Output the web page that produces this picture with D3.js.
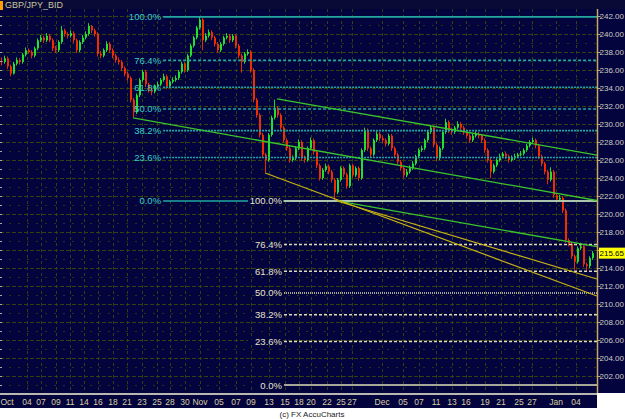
<!DOCTYPE html>
<html><head><meta charset="utf-8">
<script src="https://cdn.jsdelivr.net/npm/d3@7"></script>
<style>
html,body{margin:0;padding:0;background:#fff;}
svg{display:block;}
text{font-family:"Liberation Sans",Arial,sans-serif;}
</style></head><body>
<svg id="c" width="625" height="419"></svg>
<script>
const title = "GBP/JPY_BID";
const copyright = "(c) FX AccuCharts";
const lastPrice = 215.65;

const opens = [237.0,236.9,237.3,236.4,235.6,236.7,237.1,236.9,237.7,238.2,238.0,237.6,238.4,239.3,239.6,239.3,239.8,239.3,238.4,238.2,239.1,240.4,240.0,239.8,240.1,239.3,238.2,239.1,239.6,240.0,240.9,240.4,240.0,237.8,237.6,238.2,238.9,238.2,237.6,237.1,236.9,236.2,235.6,235.1,232.7,231.3,233.2,234.9,235.8,234.4,233.8,233.6,234.2,234.4,234.9,235.3,234.2,234.7,234.9,235.1,235.8,236.7,236.0,237.6,238.7,239.6,240.7,
241.6,239.3,239.8,240.2,239.6,238.9,238.2,238.9,239.6,239.8,239.3,239.8,238.7,237.6,236.9,237.8,238.0,236.0,232.7,231.0,228.8,226.6,226.0,228.8,230.7,231.8,231.0,229.6,228.2,227.3,226.0,226.2,227.3,228.0,226.2,226.0,227.3,228.2,226.9,225.4,224.0,224.9,225.3,224.7,223.8,222.4,223.8,225.1,224.4,223.1,225.4,224.3,225.1,224.0,227.1,229.3,227.3,226.6,228.2,228.9,228.4,228.2,227.8,228.7,227.3,
226.6,225.8,225.1,224.3,224.7,225.1,225.6,226.4,227.1,227.3,228.2,229.1,229.6,227.7,226.2,227.3,229.1,230.2,229.3,229.1,229.6,230.0,229.6,229.1,228.7,228.2,228.7,228.9,228.7,228.2,227.1,226.0,224.7,225.4,226.0,226.4,226.7,226.4,226.0,226.2,226.4,226.6,226.7,227.1,227.6,228.0,228.2,227.6,226.4,225.6,224.7,223.8,224.7,222.1,221.6,221.8,220.4,217.1,216.7,215.3,214.7,216.2,216.4,214.4,214.2,215.1];

const highs = [237.4,237.6,237.5,236.6,236.9,237.4,237.3,237.9,238.5,238.4,238.2,238.6,239.5,239.9,239.8,240.1,240.0,239.5,238.7,239.3,240.9,240.6,240.2,240.4,240.3,239.5,239.3,239.9,240.3,241.2,241.0,240.6,240.2,238.1,238.4,239.2,239.1,238.4,237.8,237.4,237.1,236.4,235.8,235.3,232.9,233.4,235.1,236.0,236.0,234.6,234.1,234.4,234.7,235.1,235.6,235.5,234.9,235.2,235.4,236.0,236.9,236.9,237.8,238.9,239.8,240.9,241.9,
241.8,240.1,240.5,240.4,239.8,239.1,239.1,239.8,240.1,240.0,240.0,240.0,238.9,237.8,238.0,238.3,238.2,236.2,232.9,231.2,229.0,226.8,229.0,230.9,232.7,232.0,231.2,229.8,228.4,227.5,226.5,227.5,228.3,228.2,226.5,227.5,228.5,228.4,227.1,225.6,225.1,225.6,225.5,224.9,224.0,224.0,225.3,225.3,224.6,225.6,225.6,225.3,225.3,227.3,229.6,229.5,227.5,228.4,229.2,229.1,228.7,228.4,228.9,228.9,227.5,
226.8,226.0,225.3,225.0,225.4,225.9,226.6,227.3,227.6,228.4,229.3,229.9,229.8,227.9,227.5,229.3,230.6,230.4,229.6,229.8,230.3,230.2,229.8,229.3,228.9,228.9,229.2,229.1,228.9,228.4,227.3,226.2,225.6,226.2,226.7,226.9,226.9,226.6,226.5,226.7,226.8,227.0,227.3,227.8,228.2,228.5,228.4,227.8,226.6,225.8,224.9,225.2,224.9,222.3,222.1,222.0,220.6,217.3,216.9,215.5,216.4,216.8,216.6,214.6,215.3,215.9];

const lows = [236.5,236.7,236.1,235.3,235.5,236.5,236.6,236.7,237.5,237.8,237.3,237.4,238.2,239.1,239.0,239.1,239.1,238.1,237.9,238.0,238.9,239.7,239.5,239.6,239.0,237.9,238.0,238.9,239.4,239.8,240.1,239.7,237.5,237.3,237.4,238.0,237.9,237.3,236.8,236.6,235.9,235.3,234.8,232.4,230.7,231.1,233.0,234.7,234.1,233.5,233.2,233.4,234.0,234.2,234.7,233.9,234.0,234.5,234.7,234.9,235.6,235.7,235.8,237.4,238.5,239.4,240.5,
238.2,239.1,239.6,239.3,238.6,237.9,238.0,238.7,239.4,239.0,239.1,238.4,237.3,235.7,236.7,237.6,235.7,232.4,230.7,228.5,226.3,224.6,225.8,228.6,230.5,230.7,229.3,227.9,227.0,225.7,225.8,226.0,227.1,225.9,225.7,225.8,227.1,226.6,225.1,223.7,223.8,224.7,224.4,223.5,221.5,222.2,223.6,224.1,222.8,222.9,224.0,224.1,223.7,223.8,226.9,227.0,226.3,226.4,228.0,228.1,227.9,227.5,227.6,227.0,226.3,
225.5,224.8,224.0,224.1,224.5,224.9,225.4,226.2,226.9,227.1,228.0,228.9,227.4,225.9,226.0,227.1,228.9,229.0,228.8,228.9,229.4,229.3,228.8,228.4,227.9,228.0,228.5,228.4,227.9,226.8,225.7,224.0,224.5,225.2,225.8,226.2,226.1,225.7,225.8,226.0,226.2,226.4,226.5,226.9,227.4,227.8,227.3,226.1,225.3,224.4,223.3,223.6,221.8,221.3,221.4,220.1,216.8,216.4,215.0,213.8,214.5,216.0,214.1,213.7,214.0,214.9];

const closes = [236.9,237.3,236.4,235.6,236.7,237.1,236.9,237.7,238.2,238.0,237.6,238.4,239.3,239.6,239.3,239.8,239.3,238.4,238.2,239.1,240.4,240.0,239.8,240.1,239.3,238.2,239.1,239.6,240.0,240.9,240.4,240.0,237.8,237.6,238.2,238.9,238.2,237.6,237.1,236.9,236.2,235.6,235.1,232.7,231.3,233.2,234.9,235.8,234.4,233.8,233.6,234.2,234.4,234.9,235.3,234.2,234.7,234.9,235.1,235.8,236.7,236.0,237.6,238.7,239.6,240.7,241.6,
239.3,239.8,240.2,239.6,238.9,238.2,238.9,239.6,239.8,239.3,239.8,238.7,237.6,236.9,237.8,238.0,236.0,232.7,231.0,228.8,226.6,226.0,228.8,230.7,231.8,231.0,229.6,228.2,227.3,226.0,226.2,227.3,228.0,226.2,226.0,227.3,228.2,226.9,225.4,224.0,224.9,225.3,224.7,223.8,222.4,223.8,225.1,224.4,223.1,225.4,224.3,225.1,224.0,227.1,229.3,227.3,226.6,228.2,228.9,228.4,228.2,227.8,228.7,227.3,226.6,
225.8,225.1,224.3,224.7,225.1,225.6,226.4,227.1,227.3,228.2,229.1,229.6,227.7,226.2,227.3,229.1,230.2,229.3,229.1,229.6,230.0,229.6,229.1,228.7,228.2,228.7,228.9,228.7,228.2,227.1,226.0,224.7,225.4,226.0,226.4,226.7,226.4,226.0,226.2,226.4,226.6,226.7,227.1,227.6,228.0,228.2,227.6,226.4,225.6,224.7,223.8,224.7,222.1,221.6,221.8,220.4,217.1,216.7,215.3,214.7,216.2,216.4,214.4,214.2,215.1,215.65];

const priceTicks = [242,240,238,236,234,232,230,228,226,224,222,220,218,216,214,212,210,208,206,204,202];
const minorTicks = [241,239,237,235,233,231,229,227,225,223,221,219,217,215,213,211,209,207,205,203,201];
const dateLabels = ["Oct","04","07","09","11","14","16","18","21","23","25","28","30","Nov","05","07","09","13","15","18","20","22","25","27","Dec","05","07","11","13","16","19","21","25","27","Jan","04"];
const datePos = [1.7,8.3,13,18,22.7,27.3,32,37,41.7,46.7,51.7,56,61,66,72.3,78,83,89,94.3,99,103,108.3,113,116.7,126.7,133.7,139,144.7,150,154.7,161,166.3,172.3,176.7,184.7,191.3];

const fibLevels = [100.0, 76.4, 61.8, 50.0, 38.2, 23.6, 0.0];
const fibA = {hi: 241.9, lo: 221.45, from: 53.7};
const fibB = {hi: 221.45, lo: 201.0, from: 94.0};

// trend lines: [barIndex1, price1, barIndex2, price2]
const greenLines = [[91.7,232.8,198.3,226.55],[43.7,230.67,198.3,221.5],[111.7,221.45,198.3,216.38]];
const yellowLines = [[87.7,224.56,198.3,210.89],[111.7,221.45,198.3,212.78]];

// ---------- layout ----------
const W = 625, H = 419;
const plotL = 0, plotR = 597, plotT = 9, plotB = 393;
const x = d3.scaleLinear().domain([0, 197]).range([2, 593]);
const y = d3.scaleLinear().domain([202, 242]).range([376, 16]);
const BG = "#03033e";

const svg = d3.select("#c");
svg.append("rect").attr("width", W).attr("height", H).attr("fill", "#ffffff");
svg.append("rect").attr("x", 0).attr("y", 0).attr("width", W).attr("height", plotB).attr("fill", BG);
svg.append("rect").attr("x", 0).attr("y", 0).attr("width", W).attr("height", plotT).attr("fill", "#0a0a36");
svg.append("rect").attr("x", 0).attr("y", 1).attr("width", 3).attr("height", 9).attr("fill", "#ff9c00");
svg.append("text").attr("x", 5).attr("y", 8).attr("font-size", 9).attr("fill", "#c8c4a0").text(title);

const defs = svg.append("defs");
defs.append("clipPath").attr("id", "plotclip").append("rect")
  .attr("x", plotL).attr("y", plotT).attr("width", plotR - plotL).attr("height", plotB - plotT);
const plot = svg.append("g").attr("clip-path", "url(#plotclip)");

// grid
plot.selectAll("line.minor").data(minorTicks).join("line")
  .attr("x1", plotL).attr("x2", plotR).attr("y1", d => Math.round(y(d)) + 0.5).attr("y2", d => Math.round(y(d)) + 0.5)
  .attr("stroke", "#2a3212").attr("stroke-dasharray", "2,7");
plot.selectAll("line.major").data(priceTicks).join("line")
  .attr("x1", plotL).attr("x2", plotR).attr("y1", d => Math.round(y(d)) + 0.5).attr("y2", d => Math.round(y(d)) + 0.5)
  .attr("stroke", "#353f14").attr("stroke-dasharray", "4,2");
plot.selectAll("line.vgrid").data(datePos.slice(1)).join("line")
  .attr("x1", d => Math.round(x(d)) + 0.5).attr("x2", d => Math.round(x(d)) + 0.5).attr("y1", plotT).attr("y2", plotB)
  .attr("stroke", "#353f14").attr("stroke-dasharray", "3,3");

// left edge ticks
svg.selectAll("line.ltick").data(priceTicks.concat(minorTicks)).join("line")
  .attr("x1", 0).attr("x2", 2).attr("y1", d => Math.round(y(d)) + 0.5).attr("y2", d => Math.round(y(d)) + 0.5)
  .attr("stroke", "#a8a8a0");

// candles
const idx = d3.range(closes.length);
const cg = plot.append("g");
cg.selectAll("rect.wick").data(idx).join("rect")
  .attr("x", i => Math.round(x(i)) - 1).attr("width", 1)
  .attr("y", i => y(highs[i])).attr("height", i => Math.max(1, y(lows[i]) - y(highs[i])))
  .attr("fill", i => closes[i] >= opens[i] ? "#1fd82a" : "#e82a08");
cg.selectAll("rect.body").data(idx).join("rect")
  .attr("x", i => Math.round(x(i)) - 1).attr("width", 2)
  .attr("y", i => y(Math.max(opens[i], closes[i])))
  .attr("height", i => Math.max(1, Math.abs(y(opens[i]) - y(closes[i]))))
  .attr("fill", i => closes[i] >= opens[i] ? "#22e030" : "#f02c00");

// fib A (teal)
const dashA = ["", "3,2", "2,1", "3,2", "2,1", "2,1", ""];
const dashB = ["", "3,2", "3,2", "1,1", "3,2", "3,2", ""];
function fibPrice(f, L) { return f.lo + (f.hi - f.lo) * L / 100; }
plot.selectAll("line.fibA").data(fibLevels).join("line")
  .attr("x1", x(fibA.from)).attr("x2", plotR)
  .attr("y1", L => y(fibPrice(fibA, L))).attr("y2", L => y(fibPrice(fibA, L)))
  .attr("stroke", "#22a8a0").attr("stroke-width", 1.6)
  .attr("stroke-dasharray", (L, i) => dashA[i]);
svg.selectAll("text.fibA").data(fibLevels).join("text")
  .attr("x", x(fibA.from) - 2).attr("y", L => y(fibPrice(fibA, L)) + 3.5)
  .attr("text-anchor", "end").attr("font-size", 9.5).attr("fill", "#36cfc4")
  .text(L => L.toFixed(1) + "%");

// fib B (cream)
plot.selectAll("line.fibB").data(fibLevels).join("line")
  .attr("x1", x(fibB.from)).attr("x2", plotR)
  .attr("y1", L => y(fibPrice(fibB, L))).attr("y2", L => y(fibPrice(fibB, L)))
  .attr("stroke", "#dcdcb8").attr("stroke-width", 1.5)
  .attr("stroke-dasharray", (L, i) => dashB[i]);
const fbl = svg.selectAll("g.fibBlab").data(fibLevels).join("g");
fbl.append("rect")
  .attr("x", x(fibB.from) - 36).attr("width", 35)
  .attr("y", L => y(fibPrice(fibB, L)) - 2).attr("height", 4)
  .attr("fill", BG);
fbl.append("text")
  .attr("x", x(fibB.from) - 2).attr("y", L => y(fibPrice(fibB, L)) + 3.5)
  .attr("text-anchor", "end").attr("font-size", 9.5).attr("fill", "#e6e4c8")
  .text(L => L.toFixed(1) + "%");

// trend lines
plot.selectAll("line.green").data(greenLines).join("line")
  .attr("x1", d => x(d[0])).attr("y1", d => y(d[1])).attr("x2", d => x(d[2])).attr("y2", d => y(d[3]))
  .attr("stroke", "#3cc42c").attr("stroke-width", 1.3);
plot.selectAll("line.yellow").data(yellowLines).join("line")
  .attr("x1", d => x(d[0])).attr("y1", d => y(d[1])).attr("x2", d => x(d[2])).attr("y2", d => y(d[3]))
  .attr("stroke", "#c8b414").attr("stroke-width", 1.2);

// right axis (label hidden behind the last-price box is skipped)
const axisTicks = priceTicks.filter(v => Math.abs(y(v) - y(lastPrice)) > 7);
const ax = svg.append("g").attr("transform", `translate(${plotR + 0.5},0)`)
  .call(d3.axisRight(y).tickValues(priceTicks).tickSize(3).tickFormat(v => axisTicks.includes(v) ? d3.format(".2f")(v) : ""));
ax.select(".domain").remove();
ax.selectAll(".tick line").attr("stroke", "#c8a860");
ax.selectAll(".tick text").attr("x", 2).attr("fill", "#d0d0c0").attr("font-size", 8)
  .attr("font-family", "Liberation Sans, Arial, sans-serif");
svg.append("line").attr("x1", plotR + 0.5).attr("x2", plotR + 0.5).attr("y1", plotT).attr("y2", plotB)
  .attr("stroke", "#c8a860").attr("stroke-width", 1.5);

// last price box
svg.append("rect").attr("x", plotR + 2).attr("y", y(lastPrice) - 5.5).attr("width", 26).attr("height", 11).attr("fill", "#ffff00");
svg.append("text").attr("x", plotR + 2.5).attr("y", y(lastPrice) + 3).attr("font-size", 8).attr("fill", "#000")
  .text(lastPrice.toFixed(2));

// bottom axis band
svg.append("rect").attr("x", 0).attr("y", plotB).attr("width", plotR).attr("height", 15).attr("fill", BG);
svg.append("rect").attr("x", 0).attr("y", plotB).attr("width", plotR).attr("height", 2).attr("fill", "#b8b8b0");
svg.selectAll("text.xl").data(dateLabels).join("text")
  .attr("x", (d, i) => x(datePos[i])).attr("y", 405)
  .attr("text-anchor", "middle").attr("font-size", 8.5).attr("fill", "#d8d0a0")
  .text(d => d);

svg.append("text").attr("x", 312).attr("y", 417).attr("text-anchor", "middle")
  .attr("font-size", 8).attr("fill", "#222").text(copyright);
</script>
</body></html>
